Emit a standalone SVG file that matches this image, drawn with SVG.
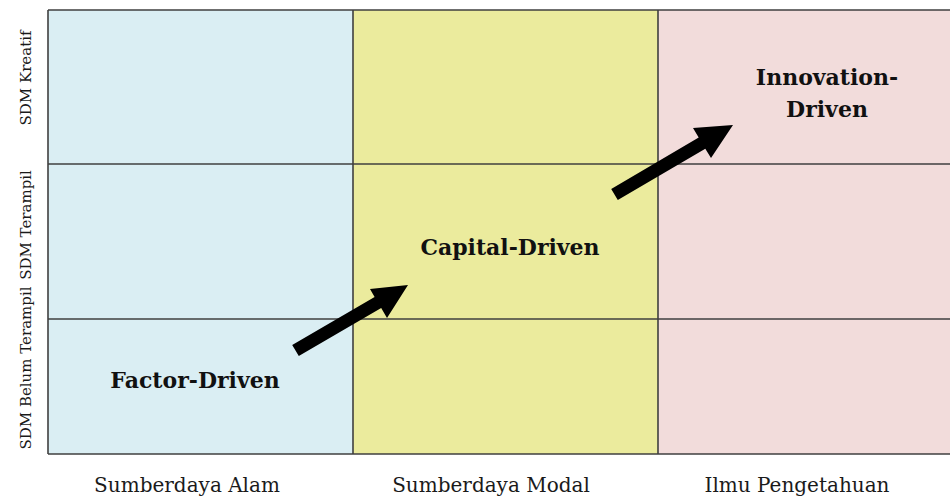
<svg xmlns="http://www.w3.org/2000/svg" width="950" height="500" viewBox="0 0 950 500">
  <style>
    .grid { stroke: #3f3f3f; stroke-width: 1.6; fill: none; }
    .axis { font-family: "DejaVu Serif", "Liberation Serif", serif; font-size: 15px; fill: #1a1a1a; text-anchor: middle; }
    .xlab { font-family: "DejaVu Serif", "Liberation Serif", serif; font-size: 20px; fill: #1a1a1a; text-anchor: middle; }
    .stage { font-family: "DejaVu Serif", "Liberation Serif", serif; font-size: 22px; font-weight: bold; fill: #111; text-anchor: middle; }
    .arrow { fill: #000; }
  </style>

  <!-- column backgrounds -->
  <g id="col-alam"><rect x="48" y="10" width="305" height="444" fill="#daeef3"/></g>
  <g id="col-modal"><rect x="353" y="10" width="305" height="444" fill="#ebeb9d"/></g>
  <g id="col-ilmu"><rect x="658" y="10" width="300" height="444" fill="#f2dcdb"/></g>

  <!-- grid lines -->
  <g id="grid" class="grid">
    <line x1="48" y1="10" x2="952" y2="10"/>
    <line x1="48" y1="164" x2="952" y2="164"/>
    <line x1="48" y1="319" x2="952" y2="319"/>
    <line x1="48" y1="454" x2="952" y2="454"/>
    <line x1="48" y1="10" x2="48" y2="454"/>
    <line x1="353" y1="10" x2="353" y2="454"/>
    <line x1="658" y1="10" x2="658" y2="454"/>
  </g>

  <!-- row labels -->
  <g id="row-labels">
    <text class="axis" transform="translate(31,78) rotate(-90)">SDM Kreatif</text>
    <text class="axis" transform="translate(31,225) rotate(-90)">SDM Terampil</text>
    <text class="axis" transform="translate(31,368) rotate(-90)">SDM Belum Terampil</text>
  </g>

  <!-- column labels -->
  <g id="col-labels">
    <text class="xlab" x="187" y="492">Sumberdaya Alam</text>
    <text class="xlab" x="491" y="492">Sumberdaya Modal</text>
    <text class="xlab" x="797" y="492">Ilmu Pengetahuan</text>
  </g>

  <!-- stages -->
  <g id="factor-driven"><text class="stage" x="195" y="388">Factor-Driven</text></g>
  <g id="capital-driven"><text class="stage" x="510" y="255">Capital-Driven</text></g>
  <g id="innovation-driven">
    <text class="stage" x="827" y="85">Innovation-</text>
    <text class="stage" x="827" y="117">Driven</text>
  </g>

  <!-- transitions between stages -->
  <g id="connectors">
    <polygon class="arrow" points="292.2,344.9 374.6,296.9 370,289 408,285 387,318 381.2,308.1 298.8,356.1"/>
    <polygon class="arrow" points="611.2,188.9 698.7,137.5 693,128 733,125 711,158 705.3,148.7 617.8,200.1"/>
  </g>
</svg>
